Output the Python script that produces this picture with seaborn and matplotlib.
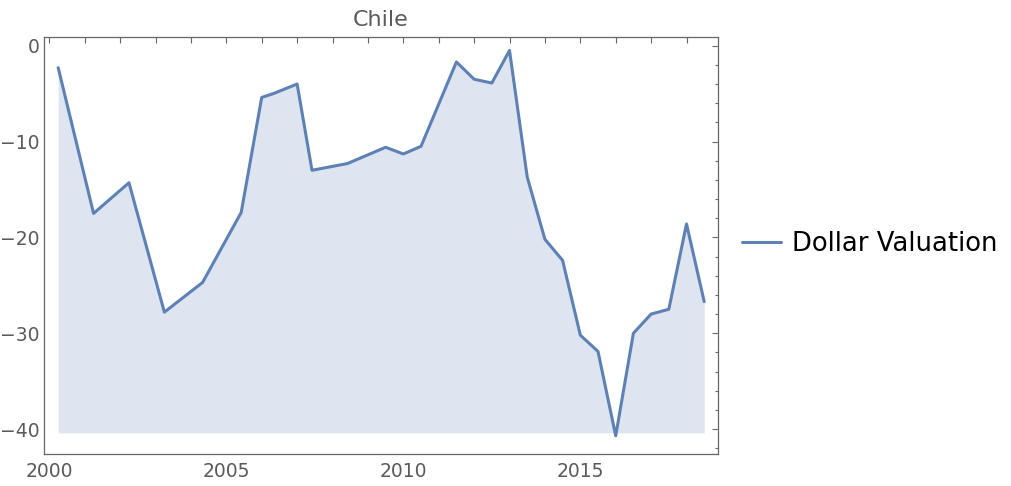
import pandas as pd
import seaborn as sns
import matplotlib.pyplot as plt
from matplotlib.ticker import MultipleLocator

# Data (decimal years)
years = [2000.25, 2001.25, 2002.25, 2003.25, 2004.33, 2005.42, 2006.0, 2006.33,
         2007.0, 2007.42, 2008.42, 2009.5, 2010.0, 2010.5, 2011.5, 2012.0,
         2012.5, 2013.0, 2013.5, 2014.0, 2014.5, 2015.0, 2015.5, 2016.0,
         2016.5, 2017.0, 2017.5, 2018.0, 2018.5]
valuation = [-2.3, -17.5, -14.3, -27.8, -24.7, -17.4, -5.4, -5.0,
             -4.0, -13.0, -12.3, -10.6, -11.3, -10.5, -1.7, -3.5,
             -3.9, -0.5, -13.7, -20.2, -22.4, -30.2, -31.9, -40.7,
             -30.0, -28.0, -27.5, -18.6, -26.7]
fill_base = -40.4
series_name = 'Dollar Valuation'
title = 'Chile'

df = pd.DataFrame({'year': years, 'value': valuation})

sns.set_style('white')
plt.rcParams['font.family'] = ['DejaVu Sans']

line_color = '#5E81B5'
frame_color = '#666666'
text_color = '#5a5a5a'

fig = plt.figure(figsize=(10.12, 4.86), dpi=100)
ax = fig.add_axes([0.0435, 0.0658, 0.666, 0.858])

ax.fill_between(df['year'], df['value'], fill_base, color=line_color, alpha=0.2, linewidth=0)
sns.lineplot(data=df, x='year', y='value', ax=ax, color=line_color, linewidth=2.2,
             label=series_name)

ax.set_xlim(1999.85, 2018.89)
ax.set_ylim(-42.6, 0.9)
ax.xaxis.set_major_locator(MultipleLocator(5))
ax.xaxis.set_minor_locator(MultipleLocator(1))
ax.yaxis.set_major_locator(MultipleLocator(10))
ax.yaxis.set_minor_locator(MultipleLocator(2))
ax.set_xlabel('')
ax.set_ylabel('')

for s in ax.spines.values():
    s.set_visible(True)
    s.set_color(frame_color)
    s.set_linewidth(0.9)

ax.tick_params(which='both', direction='in', top=True, right=True,
               color=frame_color, width=0.8, labelcolor=text_color, labelsize=13.5)
ax.tick_params(axis='x', which='both', length=4.5)
ax.tick_params(axis='y', which='major', length=4.5)
ax.tick_params(axis='y', which='minor', length=2.5)
ax.tick_params(axis='x', which='major', pad=6)

ax.set_title(title, color=text_color, fontsize=16, pad=8)

leg = ax.legend(loc='center left', bbox_to_anchor=(0.71, 0.497), bbox_transform=fig.transFigure,
                frameon=False, fontsize=18.6, handlelength=1.5, handletextpad=0.45)
for t in leg.get_texts():
    t.set_color('black')

fig.savefig('out.png', dpi=100)
